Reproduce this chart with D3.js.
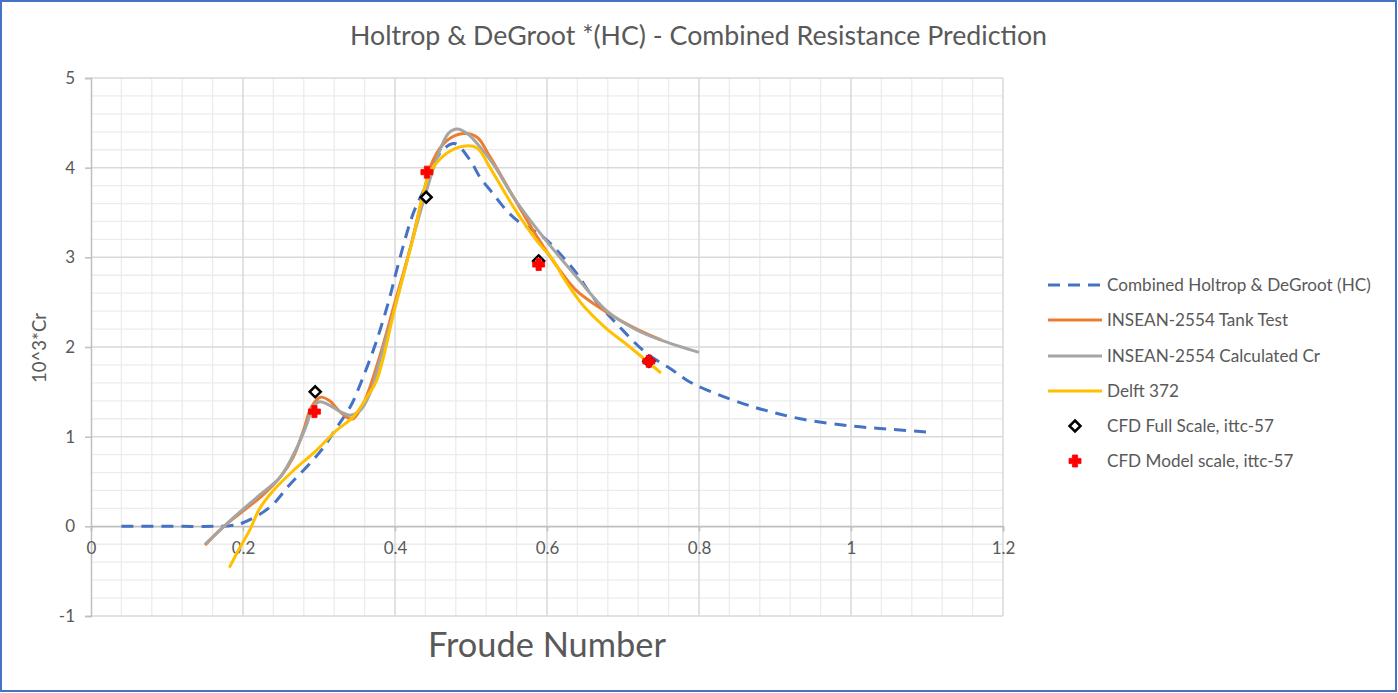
<!DOCTYPE html>
<html>
<head>
<meta charset="utf-8">
<script src="https://cdn.jsdelivr.net/npm/d3@7"></script>
<style>
  html, body { margin: 0; padding: 0; background: #ffffff; }
  svg { display: block; }
  text { font-family: Lato, "Open Sans", "Noto Sans", sans-serif; fill: #595959; }
</style>
</head>
<body>
<svg id="chart" width="1398" height="693"></svg>
<script>
// ---------------- DATA ----------------
const chartTitle = "Holtrop & DeGroot *(HC) - Combined Resistance Prediction";
const xTitle = "Froude Number";
const yTitle = "10^3*Cr";
const xTicks = [0, 0.2, 0.4, 0.6, 0.8, 1, 1.2];
const yTicks = [-1, 0, 1, 2, 3, 4, 5];
const seriesNames = [
  "Combined Holtrop & DeGroot (HC)",
  "INSEAN-2554 Tank Test",
  "INSEAN-2554 Calculated Cr",
  "Delft 372",
  "CFD Full Scale, ittc-57",
  "CFD Model scale, ittc-57"
];
// Combined Holtrop & DeGroot (HC)  [Fn, 10^3*Cr]
const hcCombined = [[0.04,0],[0.08,0],[0.12,0],[0.16,0],[0.185,0.01],[0.2,0.04],[0.235,0.21],[0.262,0.47],
  [0.288,0.7],[0.306,0.88],[0.323,1.1],[0.341,1.33],[0.356,1.62],[0.375,2.05],[0.393,2.55],[0.402,2.85],
  [0.424,3.49],[0.442,3.82],[0.459,4.16],[0.478,4.27],[0.499,4.08],[0.512,3.89],[0.529,3.71],[0.547,3.52],
  [0.564,3.39],[0.582,3.3],[0.6,3.19],[0.617,3.04],[0.639,2.82],[0.661,2.55],[0.696,2.22],[0.731,1.93],
  [0.762,1.76],[0.784,1.63],[0.805,1.54],[0.854,1.38],[0.889,1.29],[0.933,1.2],[0.999,1.12],[1.055,1.08],[1.104,1.05]];
// INSEAN-2554 Tank Test
const inseanTank = [[0.15,-0.21],[0.175,0.0],[0.2,0.17],[0.225,0.34],[0.25,0.56],[0.266,0.77],[0.28,1.08],
  [0.29,1.33],[0.302,1.44],[0.314,1.4],[0.325,1.3],[0.336,1.22],[0.345,1.2],[0.36,1.4],[0.38,1.9],[0.4,2.5],
  [0.42,3.1],[0.437,3.7],[0.45,4.08],[0.468,4.3],[0.49,4.38],[0.508,4.34],[0.525,4.12],[0.556,3.67],
  [0.587,3.23],[0.62,2.82],[0.64,2.62],[0.68,2.38],[0.718,2.2],[0.75,2.08]];
// INSEAN-2554 Calculated Cr
const inseanCalc = [[0.15,-0.2],[0.175,0.0],[0.196,0.16],[0.222,0.35],[0.249,0.55],[0.271,0.88],[0.284,1.14],
  [0.292,1.33],[0.301,1.39],[0.314,1.35],[0.328,1.28],[0.341,1.24],[0.354,1.29],[0.367,1.48],[0.38,1.85],
  [0.4,2.45],[0.42,3.1],[0.44,3.7],[0.455,4.1],[0.47,4.38],[0.482,4.43],[0.495,4.38],[0.51,4.25],[0.53,4.03],
  [0.556,3.67],[0.591,3.27],[0.639,2.78],[0.679,2.4],[0.718,2.19],[0.749,2.08],[0.8,1.94]];
// Delft 372
const delft372 = [[0.182,-0.46],[0.195,-0.25],[0.209,-0.04],[0.222,0.2],[0.24,0.4],[0.266,0.62],[0.297,0.85],
  [0.323,1.07],[0.345,1.22],[0.363,1.44],[0.376,1.63],[0.4,2.44],[0.424,3.22],[0.446,3.94],[0.468,4.16],
  [0.49,4.24],[0.508,4.22],[0.525,4.0],[0.556,3.56],[0.587,3.18],[0.608,2.97],[0.621,2.78],[0.637,2.58],
  [0.652,2.42],[0.679,2.2],[0.709,2.0],[0.75,1.71]];
// CFD Full Scale, ittc-57
const cfdFull = [[0.295,1.5],[0.441,3.67],[0.589,2.96],[0.734,1.84]];
// CFD Model scale, ittc-57
const cfdModel = [[0.294,1.28],[0.442,3.95],[0.589,2.92],[0.734,1.84]];

const colors = { hc: "#4472c4", tank: "#ed7d31", calc: "#a5a5a5", delft: "#ffc000", full: "#000000", model: "#ff0000" };

// ---------------- LAYOUT ----------------
const svg = d3.select("#chart");
const W = 1398, H = 693;
const plot = { left: 91, right: 1003, top: 78, bottom: 616 };

svg.append("rect").attr("x", 0).attr("y", 0).attr("width", W).attr("height", H).attr("fill", "#ffffff");

const x = d3.scaleLinear().domain([0, 1.2]).range([plot.left, plot.right]);
const y = d3.scaleLinear().domain([-1, 5]).range([plot.bottom, plot.top]);

function fitText(sel, target) {
  const node = sel.node();
  const fs = parseFloat(sel.attr("font-size"));
  const w = node.getComputedTextLength();
  if (w > 0) sel.attr("font-size", (fs * target / w).toFixed(2));
  return fs * target / w;
}

// grid
const grid = svg.append("g");
const minorX = d3.range(0, 1.2001, 0.04).filter(v => Math.abs(Math.round(v / 0.2) * 0.2 - v) > 1e-6);
const minorY = d3.range(-1, 5.0001, 0.2).filter(v => Math.abs(Math.round(v) - v) > 1e-6);
grid.selectAll(".mx").data(minorX).join("line")
  .attr("x1", d => x(d)).attr("x2", d => x(d)).attr("y1", plot.top).attr("y2", plot.bottom)
  .attr("stroke", "#ececec").attr("stroke-width", 1.3);
grid.selectAll(".my").data(minorY).join("line")
  .attr("x1", plot.left).attr("x2", plot.right).attr("y1", d => y(d)).attr("y2", d => y(d))
  .attr("stroke", "#ececec").attr("stroke-width", 1.3);
grid.selectAll(".Mx").data(xTicks.filter(v => v > 0)).join("line")
  .attr("x1", d => x(d)).attr("x2", d => x(d)).attr("y1", plot.top).attr("y2", plot.bottom)
  .attr("stroke", "#d9d9d9").attr("stroke-width", 1.5);
grid.selectAll(".My").data(yTicks).join("line")
  .attr("x1", plot.left).attr("x2", plot.right).attr("y1", d => y(d)).attr("y2", d => y(d))
  .attr("stroke", "#d9d9d9").attr("stroke-width", 1.5);

// axes
const yAxis = d3.axisLeft(y).tickValues(yTicks).tickSize(6).tickPadding(6).tickFormat(d => String(d));
const gy = svg.append("g").attr("transform", `translate(${plot.left},0)`).call(yAxis);
gy.select(".domain").attr("stroke", "#bfbfbf").attr("stroke-width", 1.5);
gy.selectAll(".tick line").attr("stroke", "#bfbfbf").attr("stroke-width", 1.5);
gy.selectAll(".tick text").attr("font-size", 17).attr("font-family", "Lato, 'Open Sans', sans-serif")
  .attr("fill", "#595959").attr("x", -16);

const xAxis = d3.axisBottom(x).tickValues(xTicks).tickSize(5).tickPadding(11).tickFormat(d => String(d));
const gx = svg.append("g").attr("transform", `translate(0,${y(0)})`).call(xAxis);
gx.select(".domain").attr("stroke", "#bfbfbf").attr("stroke-width", 1.5);
gx.selectAll(".tick line").attr("stroke", "#bfbfbf").attr("stroke-width", 1.5);
gx.selectAll(".tick text").attr("font-size", 17).attr("font-family", "Lato, 'Open Sans', sans-serif")
  .attr("fill", "#595959");

// series lines
const line = d3.line().x(d => x(d[0])).y(d => y(d[1])).curve(d3.curveCatmullRom.alpha(0.5));
const lines = [
  { data: hcCombined, color: colors.hc, dash: "12,8" },
  { data: inseanTank, color: colors.tank, dash: null },
  { data: inseanCalc, color: colors.calc, dash: null },
  { data: delft372, color: colors.delft, dash: null }
];
const gl = svg.append("g");
lines.forEach(s => {
  gl.append("path").datum(s.data).attr("d", line)
    .attr("fill", "none").attr("stroke", s.color).attr("stroke-width", 3)
    .attr("stroke-dasharray", s.dash).attr("stroke-linejoin", "round");
});

// markers
function diamond(g, cx, cy) {
  const r = 5.5;
  g.append("path").attr("d", `M${cx},${cy - r}L${cx + r},${cy}L${cx},${cy + r}L${cx - r},${cy}Z`)
    .attr("fill", "#ffffff").attr("stroke", "#000000").attr("stroke-width", 2.5);
}
function plus(g, cx, cy) {
  const a = 6, b = 2.6;
  g.append("path").attr("d",
    `M${cx - b},${cy - a}H${cx + b}V${cy - b}H${cx + a}V${cy + b}H${cx + b}V${cy + a}H${cx - b}V${cy + b}H${cx - a}V${cy - b}H${cx - b}Z`)
    .attr("fill", "#ff0000").attr("stroke", "#ff0000").attr("stroke-width", 0.8);
}
const gm = svg.append("g");
cfdFull.forEach(d => diamond(gm, x(d[0]), y(d[1])));
cfdModel.forEach(d => plus(gm, x(d[0]), y(d[1])));

// title
const t = svg.append("text").attr("x", 698.5).attr("y", 45).attr("text-anchor", "middle")
  .attr("font-size", 24).text(chartTitle);
fitText(t, 697);

// axis titles
const xt = svg.append("text").attr("x", 547).attr("y", 657).attr("text-anchor", "middle")
  .attr("font-size", 32).text(xTitle);
fitText(xt, 238);
const yt = svg.append("text").attr("transform", "translate(46,348) rotate(-90)").attr("text-anchor", "middle")
  .attr("font-size", 16).text(yTitle);
fitText(yt, 70);

// legend
const legendRows = [285, 320, 356, 391, 426, 461];
const gLeg = svg.append("g");
let legendFont = 16;
seriesNames.forEach((name, i) => {
  const ry = legendRows[i];
  if (i < 4) {
    const s = lines[i];
    gLeg.append("line").attr("x1", 1048).attr("x2", 1102).attr("y1", ry).attr("y2", ry)
      .attr("stroke", s.color).attr("stroke-width", 3).attr("stroke-dasharray", s.dash);
  } else if (i === 4) {
    diamond(gLeg, 1075, ry);
  } else {
    plus(gLeg, 1075, ry);
  }
  const tx = gLeg.append("text").attr("x", 1107).attr("y", ry + 5.5).attr("font-size", legendFont).text(name);
  if (i === 0) {
    fitText(tx, 264);
    legendFont = parseFloat(tx.attr("font-size"));
  }
});

// outer border
svg.append("rect").attr("x", 1).attr("y", 1).attr("width", 1395).attr("height", 690)
  .attr("fill", "none").attr("stroke", "#4472c4").attr("stroke-width", 2);
</script>
</body>
</html>
